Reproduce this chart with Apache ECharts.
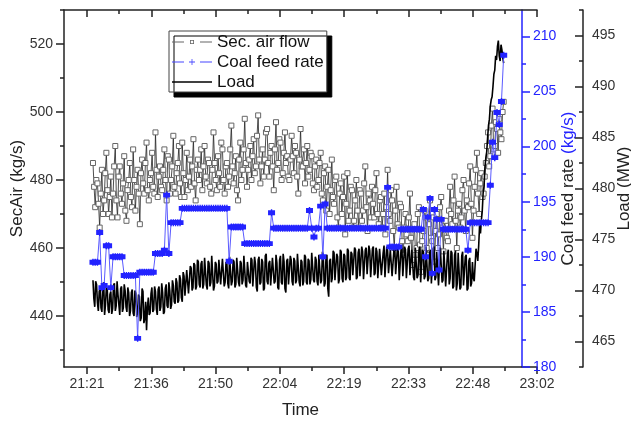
<!DOCTYPE html>
<html>
<head>
<meta charset="utf-8">
<script src="https://cdn.jsdelivr.net/npm/echarts@6/dist/echarts.min.js"></script>
<style>
  html, body { margin: 0; padding: 0; background: #fff; }
  #chart { width: 631px; height: 422px; }
</style>
</head>
<body>
<div id="chart"></div>
<script>
// x is in minutes after midnight, Origin ticks every 0.01 day (14.4 min)
const timeTicks = [1281.6, 1296, 1310.4, 1324.8, 1339.2, 1353.6, 1368, 1382.4];
const timeLabels = ['21:21', '21:36', '21:50', '22:04', '22:19', '22:33', '22:48', '23:02'];

const secAirTicks = [440, 460, 480, 500, 520];
const coalTicks = [180, 185, 190, 195, 200, 205, 210];
const loadTicks = [465, 470, 475, 480, 485, 490, 495];

// logging: all three start together, different sample steps (min)
const sampleStart = 1282.94;
const secAirStep = 0.25;
const coalStep = 0.5;
const loadStep = 0.2;

const secAirFlow = [
  485, 478, 472, 480, 479, 473, 466, 476, 483, 470, 474, 482, 488, 477, 470, 475, 481, 469, 476, 484,
  490, 474, 469, 481, 484, 476, 473, 479, 487, 471, 468, 477, 480, 485, 475, 472, 489, 480, 471, 478,
  483, 476, 467, 482, 486, 479, 476, 485, 491, 477, 474, 480, 482, 488, 478, 476, 494, 483, 475, 481,
  484, 478, 477, 483, 489, 480, 474, 487, 486, 476, 480, 484, 493, 478, 476, 482, 485, 490, 479, 475,
  491, 482, 475, 480, 488, 477, 481, 486, 478, 484, 492, 479, 474, 483, 486, 480, 483, 489, 477, 484,
  490, 481, 479, 486, 485, 478, 476, 483, 494, 485, 480, 477, 487, 482, 478, 491, 489, 480, 476, 484,
  485, 478, 481, 489, 496, 484, 479, 482, 487, 477, 474, 486, 491, 480, 483, 489, 498, 485, 478, 483,
  486, 490, 480, 487, 492, 482, 484, 493, 499, 486, 479, 484, 489, 481, 486, 494, 495, 485, 481, 488,
  490, 484, 477, 489, 497, 483, 485, 492, 491, 480, 482, 488, 494, 485, 487, 481, 480, 486, 493, 487,
  482, 490, 488, 481, 476, 486, 495, 484, 484, 489, 479, 485, 490, 481, 483, 488, 487, 479, 477, 484,
  486, 478, 480, 485, 488, 476, 474, 482, 484, 471, 478, 483, 470, 477, 486, 475, 473, 480, 481, 469,
  466, 476, 479, 470, 475, 481, 464, 473, 482, 468, 471, 478, 477, 466, 468, 474, 480, 471, 466, 477,
  476, 468, 471, 479, 484, 472, 465, 476, 474, 469, 478, 473, 469, 477, 482, 470, 467, 474, 475, 466,
  470, 476, 464, 472, 483, 470, 468, 477, 474, 465, 460, 471, 478, 467, 466, 473, 472, 462, 458, 466,
  470, 464, 462, 469, 476, 463, 455, 466, 467, 458, 460, 470, 472, 461, 453, 462, 465, 471, 469, 460,
  458, 467, 474, 463, 462, 469, 456, 465, 470, 460, 464, 472, 475, 466, 459, 468, 468, 463, 462, 471,
  478, 470, 467, 474, 481, 468, 460, 471, 473, 466, 469, 477, 480, 471, 465, 474, 472, 479, 484, 473,
  463, 471, 478, 483, 488, 476, 470, 479, 482, 475, 476, 481, 485, 490, 494, 484, 487, 496, 501, 489,
  490, 497, 495, 488, 498, 494, 492, 500, 503
];

const coalFeed = [
  189.5, 189.5, 189.5, 192.2, 187.2, 187.4, 191.0, 191.0, 187.2, 190.0,
  190.0, 190.0, 190.0, 190.0, 188.3, 188.3, 188.3, 188.3, 188.3, 188.3,
  182.6, 188.6, 188.6, 188.6, 188.6, 188.6, 188.6, 188.6, 190.3, 190.3,
  190.3, 190.3, 190.6, 195.6, 190.3, 193.1, 193.1, 193.1, 193.1, 193.1,
  194.4, 194.4, 194.4, 194.4, 194.4, 194.4, 194.4, 194.4, 194.4, 194.4,
  194.4, 194.4, 194.4, 194.4, 194.4, 194.4, 194.4, 194.4, 194.4, 194.4,
  194.4, 189.6, 192.7, 192.7, 192.7, 192.7, 192.7, 192.7, 191.2, 191.2,
  191.2, 191.2, 191.2, 191.2, 191.2, 191.2, 191.2, 191.2, 191.2, 191.2,
  194.0, 192.6, 192.6, 192.6, 192.6, 192.6, 192.6, 192.6, 192.6, 192.6,
  192.6, 192.6, 192.6, 192.6, 192.6, 192.6, 192.6, 194.2, 192.6, 191.8,
  192.6, 192.6, 194.6, 190.0, 194.8, 192.6, 192.6, 192.6, 192.6, 192.6,
  192.6, 192.6, 192.6, 192.6, 192.6, 192.6, 192.6, 192.6, 192.6, 192.6,
  192.6, 192.6, 192.6, 192.6, 192.6, 192.6, 192.6, 192.6, 192.6, 192.6,
  192.6, 192.6, 196.3, 190.9, 190.9, 190.9, 190.9, 190.9, 192.5, 192.5,
  192.5, 192.5, 192.5, 192.5, 192.5, 192.5, 192.5, 192.5, 194.3, 190.0,
  193.6, 195.3, 188.5, 194.3, 193.4, 188.8, 193.4, 192.5, 192.5, 192.5,
  192.5, 192.5, 192.5, 192.5, 192.5, 192.5, 192.5, 192.5, 190.6, 193.1,
  193.1, 193.1, 193.1, 193.1, 193.1, 193.1, 193.1, 193.1, 196.5, 200.4,
  199.0, 203.1, 202.0, 204.1, 208.3
];

const unitLoad = [
  471.0, 469.2, 468.4, 470.9, 470.6, 468.8, 468.0, 469.9, 470.2, 468.3, 467.9, 470.5, 470.8, 467.6, 468.6, 470.3, 470.1, 468.1, 467.8, 469.6,
  469.9, 467.7, 468.2, 470.5, 470.7, 468.0, 468.5, 470.9, 469.6, 468.6, 467.6, 470.2, 470.4, 467.9, 468.3, 470.6, 470.0, 468.4, 467.9, 470.3, 469.8, 467.5,
  468.0, 469.8, 470.1, 467.8, 467.5, 470.0, 469.7, 467.4, 467.9, 469.6, 469.4, 467.0, 467.3, 470.2, 469.9, 466.8, 467.2, 468.9, 466.1, 468.4, 469.3, 467.6,
  467.8, 469.7, 470.3, 467.9, 468.1, 470.4, 469.9, 468.2, 467.6, 470.1, 470.4, 468.0, 468.4, 470.7, 469.8, 467.7, 467.9, 470.2, 470.6, 468.5, 468.3, 470.8, 470.0, 468.2, 468.6, 471.0, 470.5, 468.9,
  468.7, 471.2, 470.8, 468.8, 469.0, 471.5, 471.1, 469.3, 468.9, 471.8, 471.4, 469.5, 469.6, 472.0, 471.9, 469.7, 469.8, 472.4, 472.2, 470.0, 470.3, 472.7, 472.5, 470.1, 470.4, 473.0, 472.8, 470.6,
  470.3, 472.6, 472.9, 470.2, 470.6, 473.2, 473.1, 470.5, 470.1, 472.9, 472.7, 470.4, 470.8, 473.4, 473.3, 470.0, 470.4, 472.8, 472.6, 470.7, 470.9, 473.0,
  472.9, 470.6, 470.5, 473.1, 473.2, 470.4, 470.8, 472.8, 472.6, 470.7, 470.2, 473.3, 473.4, 470.5, 470.9, 473.0, 472.8, 470.3, 470.6, 473.2,
  473.1, 470.8, 470.4, 472.9, 472.7, 470.6, 471.0, 473.4, 473.5, 470.5, 470.3, 472.8, 472.9, 470.9, 470.7, 473.2, 473.0, 470.4, 470.5, 473.3,
  472.6, 470.3, 469.9, 473.0, 473.3, 470.6, 470.8, 473.1, 472.8, 470.0, 470.2, 473.4, 473.6, 470.9, 470.6, 472.7, 472.9, 470.5, 470.4, 473.2,
  473.2, 470.7, 470.9, 473.5, 472.7, 470.3, 470.1, 473.0, 473.4, 470.8, 470.6, 473.6, 472.8, 470.2, 469.8, 472.9, 473.1, 470.6, 470.7, 473.4,
  473.0, 470.9, 470.5, 473.2, 472.9, 470.7, 471.0, 473.6, 473.5, 470.8, 470.4, 473.0, 472.8, 470.5, 470.9, 473.5, 473.3, 470.8, 470.6, 473.1,
  472.9, 470.6, 471.1, 473.7, 473.6, 471.0, 470.8, 473.3, 473.0, 470.9, 470.5, 473.5, 473.4, 470.7, 471.0, 473.8, 473.2, 470.4, 470.7, 473.3,
  473.5, 470.2, 469.4, 472.9, 473.1, 470.8, 471.2, 473.9, 473.7, 471.0, 470.9, 473.6, 473.3, 470.7, 471.1, 474.0, 473.8, 471.2, 470.8, 473.6,
  473.4, 471.0, 471.3, 474.1, 473.9, 471.2, 471.0, 473.8, 473.6, 471.5, 471.4, 474.2, 474.0, 471.1,
  471.3, 473.7, 474.1, 471.4, 471.5, 474.3, 473.8, 471.1, 471.2, 474.0, 474.2, 471.6, 471.6, 474.4, 473.9, 471.3, 471.4, 474.1, 474.3, 471.5,
  471.7, 474.2, 473.8, 471.2, 471.3, 474.1, 474.0, 471.5, 471.6, 473.7, 474.4, 471.3, 471.2, 474.3, 473.9, 471.7, 471.8, 474.0, 474.1, 471.4,
  471.4, 473.9, 474.3, 471.6, 471.7, 474.2, 473.8, 471.0, 471.1, 474.0, 474.2, 471.4, 471.5, 474.3, 474.0, 471.2, 471.3, 474.1, 474.4, 471.5,
  471.6, 474.0, 473.9, 471.3, 471.0, 474.2, 474.1, 471.2, 471.5, 473.8, 474.3, 470.8, 470.9, 474.0, 473.8, 471.1, 471.4, 474.3, 474.2, 470.9,
  471.2, 473.7, 474.0, 470.7, 470.8, 474.1, 474.3, 471.0, 471.3, 473.8, 473.9, 470.5, 470.6, 474.2, 474.1, 470.8, 471.0, 473.9, 473.8, 470.4,
  470.5, 473.6, 474.0, 470.6, 471.2, 473.9, 473.7, 470.2, 470.4, 473.5, 473.9, 470.0, 470.7, 473.7, 473.6, 470.1, 470.3, 473.4, 473.8, 470.5,
  470.6, 473.3, 473.5, 470.0, 470.2, 472.9,
  473.2, 470.4, 470.7, 472.8, 471.2, 470.9, 472.5, 474.1, 473.6, 472.9, 474.4, 476.4, 475.6, 476.9, 477.8, 479.6, 480.2, 482.1, 483.0, 483.6,
  485.0, 486.2, 486.8, 488.1, 488.7, 489.0, 490.0, 491.2, 491.6, 493.0, 492.6, 493.9, 494.5, 493.0, 492.5, 494.1, 493.6, 492.8, 492.3
];

const font = 'Liberation Sans, Arial, sans-serif';
const dark = '#222';
const blue = '#2323ff';

function withTime(values, step) {
  return values.map((v, i) => [sampleStart + i * step, v]);
}
function halfway(ticks) {
  const out = [];
  for (let i = 0; i < ticks.length - 1; i++) out.push((ticks[i] + ticks[i + 1]) / 2);
  return out;
}

const xMin = 1276.45, xMax = 1382.4;
const xMinor = halfway(timeTicks);

const chart = echarts.init(document.getElementById('chart'));

const baseX = { type: 'value', min: xMin, max: xMax, splitLine: { show: false } };
const labelStyle = { fontSize: 14, fontFamily: font, color: '#333' };
const tickLine = { color: dark, width: 1.5 };
const nameStyle = { fontSize: 17, fontFamily: font, color: dark };

chart.setOption({
  animation: false,
  grid: { left: 64, right: 94, top: 10, bottom: 55, containLabel: false, outerBoundsMode: 'none' },
  legend: {
    orient: 'vertical', left: 169, top: 31,
    padding: [1, 3, 0, 3], itemGap: 0, itemWidth: 40, itemHeight: 10,
    backgroundColor: '#fff', borderColor: '#444', borderWidth: 1,
    shadowColor: '#000', shadowBlur: 0, shadowOffsetX: 5, shadowOffsetY: 5,
    textStyle: { fontSize: 17, fontFamily: font, color: '#111', lineHeight: 20 },
    data: [
      {
        name: 'Sec. air flow',
        icon: 'path://M0,4.5H12V5.5H0Z M28,4.5H40V5.5H28Z M18,3H22V3.8H18Z M18,6.2H22V7H18Z M18,3H18.8V7H18Z M21.2,3H22V7H21.2Z',
        itemStyle: { color: '#666', borderWidth: 0 },
      },
      {
        name: 'Coal feed rate',
        icon: 'path://M0,4.4H12V5.6H0Z M28,4.4H40V5.6H28Z M19.6,2H20.4V8H19.6Z M17,4.6H23V5.4H17Z',
        itemStyle: { color: '#4646ff', borderWidth: 0 },
      },
      {
        name: 'Load',
        icon: 'path://M0,4.3H40V5.7H0Z',
        itemStyle: { color: '#000', borderWidth: 0 },
      },
    ],
  },
  xAxis: [
    Object.assign({}, baseX, {
      position: 'bottom',
      name: 'Time', nameLocation: 'middle', nameGap: 35, nameMoveOverlap: false,
      nameTextStyle: nameStyle,
      axisLine: { lineStyle: tickLine },
      axisTick: { customValues: timeTicks, length: 7, lineStyle: tickLine },
      axisLabel: Object.assign({
        customValues: timeTicks, margin: 10,
        formatter: (v) => timeLabels[timeTicks.findIndex((t) => Math.abs(t - v) < 0.01)] || '',
      }, labelStyle),
    }),
    Object.assign({}, baseX, {
      position: 'top',
      axisLine: { lineStyle: tickLine },
      axisTick: { inside: true, customValues: timeTicks, length: 7, lineStyle: tickLine },
      axisLabel: { show: false },
    }),
    Object.assign({}, baseX, {
      position: 'bottom', axisLine: { show: false }, axisLabel: { show: false },
      axisTick: { customValues: xMinor, length: 4, lineStyle: tickLine },
    }),
    Object.assign({}, baseX, {
      position: 'top', axisLine: { show: false }, axisLabel: { show: false },
      axisTick: { inside: true, customValues: xMinor, length: 4, lineStyle: tickLine },
    }),
  ],
  yAxis: [
    {
      type: 'value', position: 'left', min: 425, max: 530, splitLine: { show: false },
      name: 'SecAir (kg/s)', nameLocation: 'middle', nameGap: 38, nameMoveOverlap: false,
      nameTextStyle: nameStyle,
      axisLine: { lineStyle: tickLine },
      axisTick: { customValues: secAirTicks, length: 8, lineStyle: tickLine },
      axisLabel: Object.assign({ customValues: secAirTicks, margin: 11 }, labelStyle),
    },
    {
      type: 'value', position: 'right', offset: -15, min: 180, max: 212.4, splitLine: { show: false },
      name: '{a|Coal feed rate} {b|(kg/s)}', nameLocation: 'middle', nameGap: 38, nameRotate: 90,
      nameMoveOverlap: false,
      nameTextStyle: Object.assign({}, nameStyle, {
        rich: {
          a: { fontSize: 17, fontFamily: font, color: dark },
          b: { fontSize: 17, fontFamily: font, color: blue },
        },
      }),
      axisLine: { lineStyle: { color: blue, width: 1.5 } },
      axisTick: { customValues: coalTicks, length: 8, lineStyle: { color: blue, width: 1.5 } },
      axisLabel: Object.assign({ customValues: coalTicks, margin: 11 }, labelStyle, { color: blue }),
    },
    {
      type: 'value', position: 'right', offset: 46, min: 462.5, max: 497.5, splitLine: { show: false },
      name: 'Load (MW)', nameLocation: 'middle', nameGap: 33, nameRotate: 90, nameMoveOverlap: false,
      nameTextStyle: nameStyle,
      axisLine: { lineStyle: tickLine },
      axisTick: { inside: true, customValues: loadTicks, length: 8, lineStyle: tickLine },
      axisLabel: Object.assign({ customValues: loadTicks, margin: 9 }, labelStyle),
    },
    {
      type: 'value', position: 'left', min: 425, max: 530, splitLine: { show: false },
      axisLine: { show: false }, axisLabel: { show: false },
      axisTick: { customValues: [430, 450, 470, 490, 510, 530], length: 4, lineStyle: tickLine },
    },
    {
      type: 'value', position: 'right', offset: -15, min: 180, max: 212.4, splitLine: { show: false },
      axisLine: { show: false }, axisLabel: { show: false },
      axisTick: { customValues: halfway(coalTicks), length: 4, lineStyle: { color: blue, width: 1.5 } },
    },
    {
      type: 'value', position: 'right', offset: 46, min: 462.5, max: 497.5, splitLine: { show: false },
      axisLine: { show: false }, axisLabel: { show: false },
      axisTick: { inside: true, customValues: [462.5].concat(halfway(loadTicks), [497.5]), length: 4, lineStyle: tickLine },
    },
  ],
  series: [
    {
      name: 'Sec. air flow', type: 'line', xAxisIndex: 0, yAxisIndex: 0, z: 2,
      data: withTime(secAirFlow, secAirStep),
      symbol: 'rect', symbolSize: 5, showAllSymbol: true,
      itemStyle: { color: '#fff', borderColor: '#666', borderWidth: 1 },
      lineStyle: { color: '#222', width: 0.8 },
    },
    {
      name: 'Load', type: 'line', xAxisIndex: 0, yAxisIndex: 2, z: 3,
      data: withTime(unitLoad, loadStep),
      symbol: 'none',
      itemStyle: { color: '#000' },
      lineStyle: { color: '#000', width: 1.6 },
    },
    {
      name: 'Coal feed rate', type: 'line', xAxisIndex: 0, yAxisIndex: 1, z: 4,
      data: withTime(coalFeed, coalStep),
      symbol: 'path://M0,1.5H10V8.5H0Z M4,0H6V10H4Z', symbolSize: 7, showAllSymbol: true,
      itemStyle: { color: blue },
      lineStyle: { color: '#5a5aff', width: 1 },
    },
  ],
});
</script>
</body>
</html>
